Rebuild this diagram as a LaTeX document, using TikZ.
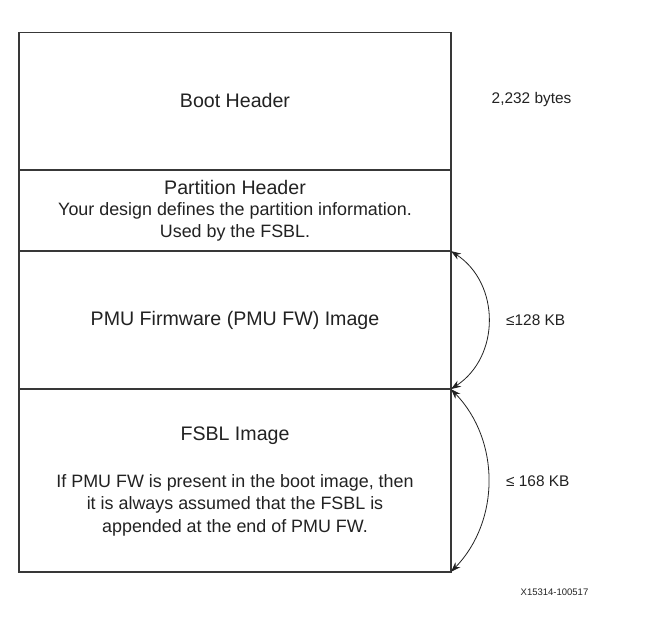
\documentclass[tikz,border=0pt]{standalone}
\usepackage{fontspec}
\setmainfont{Liberation Sans}
\usetikzlibrary{arrows.meta}
\definecolor{ink}{HTML}{222222}
\definecolor{edge}{HTML}{383838}
\tikzset{
  blk/.style={draw=edge, line width=1.6pt, minimum width=432pt, inner sep=0pt, outer sep=0pt},
  ttl/.style={text=ink, font=\fontsize{19.6}{23}\selectfont, inner sep=0pt},
  body/.style={text=ink, font=\fontsize{17.9}{22.5}\selectfont, align=center, inner sep=0pt},
  side/.style={text=ink, font=\fontsize{15.4}{18}\selectfont, anchor=west, inner sep=0pt},
  tag/.style={text=ink, font=\fontsize{9.5}{11}\selectfont, inner sep=0pt},
  szarc/.style={draw=ink, line width=0.8pt, {Stealth[length=10pt,width=7pt]}-{Stealth[length=10pt,width=7pt]}}
}
\begin{document}
\begin{tikzpicture}[x=1pt,y=-1pt]
\useasboundingbox (0,0) rectangle (668,623);
\fill[white] (0,0) rectangle (668,623);
% boxes
\node[blk, minimum height=137pt] (boot) at (235,101.2) {};
\node[blk, minimum height=81.5pt] (part) at (235,210.4) {};
\node[blk, minimum height=138pt] (pmu) at (235,320.1) {};
\node[blk, minimum height=182.7pt] (fsbl) at (235,480.5) {};
% texts
\node[ttl] (bootT) at (235,100) {Boot Header};
\node[ttl] (partT) at (235,187.7) {Partition Header};
\node[body] (partB) at (235,222) {Your design defines the partition information.\\Used by the FSBL.};
\node[ttl] (pmuT) at (235,320) {PMU Firmware (PMU FW) Image};
\node[ttl] (fsblT) at (235,435.7) {FSBL Image};
\node[body] (fsblB) at (235,505) {If PMU FW is present in the boot image, then\\it is always assumed that the FSBL is\\appended at the end of PMU FW.};
% side labels
\node[side] (bootS) at (491.5,99.5) {2,232 bytes};
\node[side] (pmuS) at (506,320) {≤128 KB};
\node[side] (fsblS) at (506,481.5) {≤ 168 KB};
\node[tag] (xid) at (554.5,592) {X15314-100517};
% size arcs
\draw[szarc] (pmu.north east) .. controls +(49.4,32.3) and +(49.4,-32.3) .. (pmu.south east);
\draw[szarc] (fsbl.north east) .. controls +(49.3,51) and +(49.3,-51) .. (fsbl.south east);
\end{tikzpicture}
\end{document}
